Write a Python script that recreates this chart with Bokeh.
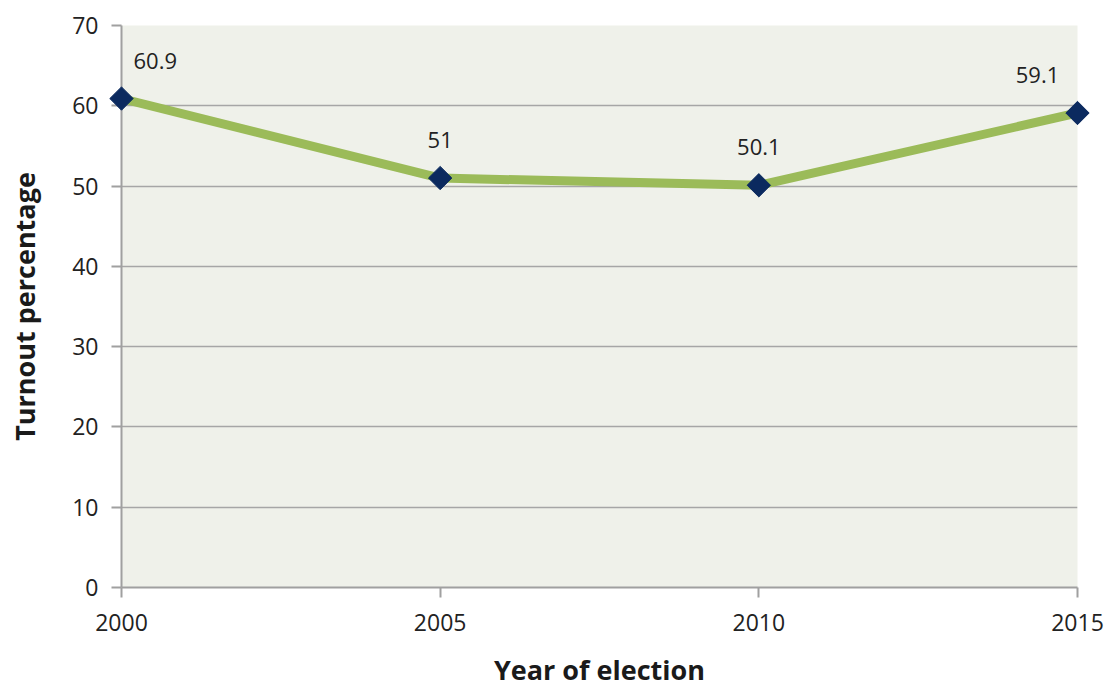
import math
from bokeh.plotting import figure
from bokeh.models import ColumnDataSource, FixedTicker, Range1d
from bokeh.embed import file_html
from bokeh.resources import INLINE
from bokeh.core.properties import value

years = [2000, 2005, 2010, 2015]
turnout = [60.9, 51.0, 50.1, 59.1]
labels = ["60.9", "51", "50.1", "59.1"]
y_ticks = [0, 10, 20, 30, 40, 50, 60, 70]

FONT = "Open Sans"

p = figure(width=1106, height=690, output_backend="svg", toolbar_location=None,
           x_range=Range1d(2000, 2015), y_range=Range1d(0, 70),
           min_border_left=121, min_border_right=29, min_border_top=25, min_border_bottom=103)
p.background_fill_color = "#eff1ea"
p.border_fill_color = "white"
p.outline_line_color = None

p.xgrid.grid_line_color = None
p.ygrid.grid_line_color = "#a6a6a6"
p.ygrid.grid_line_width = 1.5
p.ygrid.ticker = FixedTicker(ticks=y_ticks)

p.xaxis.ticker = FixedTicker(ticks=years)
p.yaxis.ticker = FixedTicker(ticks=y_ticks)
for ax in (p.xaxis[0], p.yaxis[0]):
    ax.axis_line_color = "#a0a0a0"
    ax.axis_line_width = 2
    ax.major_tick_line_color = "#a0a0a0"
    ax.major_tick_line_width = 2
    ax.major_tick_in = 0
    ax.major_tick_out = 10
    ax.minor_tick_line_color = None
    ax.major_label_text_font = FONT
    ax.major_label_text_font_size = "23px"
    ax.major_label_text_color = "#222222"
    ax.axis_label_text_font = FONT
    ax.axis_label_text_font_size = "27px"
    ax.axis_label_text_font_style = "bold"
    ax.axis_label_text_color = "#1a1a1a"

p.xaxis.axis_label = "Year of election"
p.yaxis.axis_label = "Turnout percentage"
p.xaxis.major_label_standoff = 16
p.xaxis.axis_label_standoff = 17
p.yaxis.major_label_standoff = 13
p.yaxis.axis_label_standoff = 26

src = ColumnDataSource(dict(x=years, y=turnout, label=labels,
                            align=["left", "center", "center", "center"],
                            xoff=[12, 0, 0, -40]))
p.line("x", "y", source=src, line_color="#9bbb59", line_width=9)
p.scatter("x", "y", source=src, marker="square", size=16.5, angle=math.pi / 4,
          fill_color="#0b2a5f", line_color="#0b2a5f", level="overlay")
p.text("x", "y", text="label", source=src, text_align="align", x_offset="xoff", y_offset=-38,
       text_baseline="middle", text_font=value(FONT), text_font_size="22px",
       text_color="#222222", level="overlay")

open("out.html", "w").write(file_html(p, INLINE))
